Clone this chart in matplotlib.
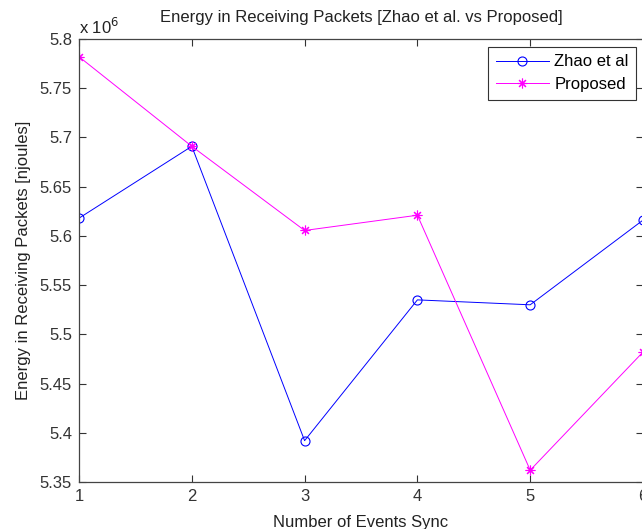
import matplotlib
matplotlib.use("Agg")
import matplotlib.pyplot as plt

plt.rcParams['font.family'] = ['Liberation Sans', 'DejaVu Sans']

# Data (values in units of 10^6 njoules)
events = [1, 2, 3, 4, 5, 6]
zhao = [5.618, 5.691, 5.392, 5.535, 5.530, 5.616]
proposed = [5.782, 5.691, 5.6055, 5.621, 5.362, 5.482]
yticks = [5.35, 5.4, 5.45, 5.5, 5.55, 5.6, 5.65, 5.7, 5.75, 5.8]
ytick_labels = ['5.35', '5.4', '5.45', '5.5', '5.55', '5.6', '5.65', '5.7', '5.75', '5.8']

fig = plt.figure(figsize=(6.42, 5.29), dpi=100)
ax = fig.add_axes([79 / 642, 47 / 529, 564 / 642, 443 / 529])

ax.plot(events, zhao, color='blue', lw=0.7, marker='o', ms=6.5,
        mfc='none', mec='blue', mew=0.8, label='Zhao et al')
ax.plot(events, proposed, color='magenta', lw=0.7, marker=(8, 2, 0), ms=7,
        mec='magenta', mew=0.8, label='Proposed')

ax.set_xlim(1, 6)
ax.set_ylim(5.35, 5.8)
ax.set_xticks(events)
ax.set_yticks(yticks)
ax.set_yticklabels(ytick_labels)
ax.tick_params(direction='in', length=5, width=0.8, top=True, right=True,
               labelsize=12, colors='#333333', pad=5)
for s in ax.spines.values():
    s.set_color('#444444')
    s.set_linewidth(0.9)

ax.text(0, 1.005, r'x 10$^6$', transform=ax.transAxes, fontsize=12,
        ha='left', va='bottom', color='#222222')
ax.set_title('Energy in Receiving Packets [Zhao et al. vs Proposed]',
             fontsize=12, pad=12, color='#222222')
ax.set_xlabel('Number of Events Sync', fontsize=12, color='#222222', labelpad=8)
ax.set_ylabel('Energy in Receiving Packets [njoules]', fontsize=12,
              color='#222222', labelpad=6)

leg = ax.legend(loc='upper right', bbox_to_anchor=(1 - 7 / 564, 1 - 8 / 443),
                fontsize=12, fancybox=False, framealpha=1, edgecolor='#333333',
                handlelength=3.2, borderpad=0.45, labelspacing=0.45,
                handletextpad=0.3, borderaxespad=0)
leg.get_frame().set_linewidth(0.8)

fig.savefig('out.png', dpi=100)
